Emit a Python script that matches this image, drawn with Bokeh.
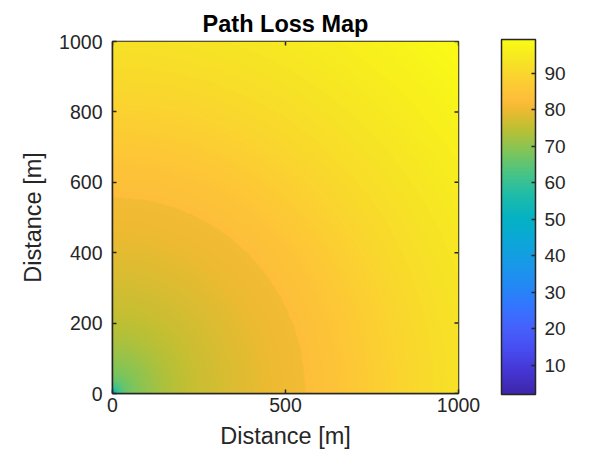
import numpy as np
from bokeh.plotting import figure
from bokeh.models import LinearColorMapper, ColorBar, FixedTicker, Range1d
from bokeh.embed import file_html
from bokeh.resources import INLINE

# ---- data ----
title = "Path Loss Map"
x_label = "Distance [m]"
y_label = "Distance [m]"
x_ticks = [0, 500, 1000]
y_ticks = [0, 200, 400, 600, 800, 1000]
cbar_ticks = [10, 20, 30, 40, 50, 60, 70, 80, 90]
cbar_low = 2.0
cbar_high = 99.2
area_size = 1000  # m

# radial path-loss profile (distance from origin in m -> dB), read by colour
near_dist = [3, 10, 33, 110, 205, 350, 470, 557]
near_loss = [47, 56, 65, 71, 75, 78, 80, 80.8]
far_dist = [557, 650, 800, 1000, 1414]
far_loss = [82.8, 84.8, 88.5, 92.6, 98.8]
breakpoint_dist = 557

# ---- parula palette (style) ----
parula_pos = [0.000, 0.063, 0.125, 0.188, 0.250, 0.313, 0.375, 0.438, 0.500,
              0.563, 0.625, 0.688, 0.750, 0.800, 0.830, 0.875, 0.938, 1.000]
parula_rgb = [
    (0.2422, 0.1504, 0.6603), (0.2691, 0.2094, 0.8249), (0.2813, 0.2985, 0.9397),
    (0.2724, 0.3804, 0.9881), (0.1960, 0.4640, 0.9990), (0.1300, 0.5450, 0.9550),
    (0.0900, 0.6050, 0.9000), (0.0400, 0.6600, 0.8400), (0.0200, 0.7000, 0.7600),
    (0.1200, 0.7400, 0.6600), (0.2900, 0.7700, 0.5200), (0.5100, 0.7700, 0.3400),
    (0.7400, 0.7500, 0.2000), (0.9200, 0.7300, 0.1900), (0.9950, 0.7400, 0.2300),
    (0.9900, 0.7950, 0.2050), (0.9650, 0.8900, 0.1450), (0.9769, 0.9839, 0.0805),
]
anc = np.array(parula_rgb)
palette = []
for v in np.linspace(0, 1, 256):
    rgb = [np.interp(v, parula_pos, anc[:, k]) for k in range(3)]
    palette.append("#%02x%02x%02x" % tuple(int(round(c * 255)) for c in rgb))

# ---- build the field from the profile ----
n = 400
cells = (np.arange(n) + 0.5) * area_size / n
X, Y = np.meshgrid(cells, cells)
R = np.hypot(X, Y)
logR = np.log10(np.maximum(R, 1e-3))
Z = np.where(
    R < breakpoint_dist,
    np.interp(logR, np.log10(near_dist), near_loss),
    np.interp(logR, np.log10(far_dist), far_loss),
)

txt = "#262626"
font = "Liberation Sans"

p = figure(frame_width=346, frame_height=352, min_border_left=112, min_border_right=130,
           min_border_top=41, min_border_bottom=59,
           x_range=Range1d(0, area_size), y_range=Range1d(0, area_size),
           output_backend="svg", toolbar_location=None, title=title)

mapper = LinearColorMapper(palette=palette, low=cbar_low, high=cbar_high)
p.image(image=[Z], x=0, y=0, dw=area_size, dh=area_size, color_mapper=mapper)

# inward ticks on the top and right edges of the box
p.ray(x=x_ticks, y=[area_size] * len(x_ticks), length=4, length_units="screen",
      angle=-np.pi / 2, line_color=txt, line_width=1.5)
p.ray(x=[area_size] * len(y_ticks), y=y_ticks, length=4, length_units="screen",
      angle=np.pi, line_color=txt, line_width=1.5)

p.grid.visible = False
p.background_fill_color = "white"
p.outline_line_color = txt
p.outline_line_width = 1.5
p.outline_line_alpha = 1

p.title.align = "center"
p.title.text_font = font
p.title.text_font_size = "23.5px"
p.title.text_font_style = "bold"
p.title.text_color = "#000000"
p.title.standoff = 9
p.title.offset = 0

for ax, ticks, lab in ((p.xaxis[0], x_ticks, x_label), (p.yaxis[0], y_ticks, y_label)):
    ax.ticker = FixedTicker(ticks=ticks)
    ax.axis_label = lab
    ax.axis_label_text_font = font
    ax.axis_label_text_font_size = "23.5px"
    ax.axis_label_text_font_style = "normal"
    ax.axis_label_text_color = txt
    ax.major_label_text_font = font
    ax.major_label_text_font_size = "19.5px"
    ax.major_label_text_color = txt
    ax.axis_line_color = txt
    ax.axis_line_width = 1.5
    ax.major_tick_in = 4
    ax.major_tick_out = 0
    ax.major_tick_line_color = txt
    ax.major_tick_line_width = 1.5
    ax.minor_tick_line_color = None
p.xaxis.major_label_standoff = 4
p.xaxis.axis_label_standoff = 8
p.yaxis.major_label_standoff = 10
p.yaxis.axis_label_standoff = 10

cb = ColorBar(color_mapper=mapper, ticker=FixedTicker(ticks=cbar_ticks), width=34, height=355,
              location=(389, -1), padding=0, margin=0,
              bar_line_color=txt, bar_line_width=1.5,
              major_tick_in=4, major_tick_out=0, major_tick_line_color=txt,
              major_tick_line_width=1.5, minor_tick_line_color=None,
              major_label_text_font=font, major_label_text_font_size="19px",
              major_label_text_color=txt, label_standoff=9,
              background_fill_alpha=0, border_line_color=None)
p.add_layout(cb, "center")

open("out.html", "w").write(file_html(p, INLINE))
